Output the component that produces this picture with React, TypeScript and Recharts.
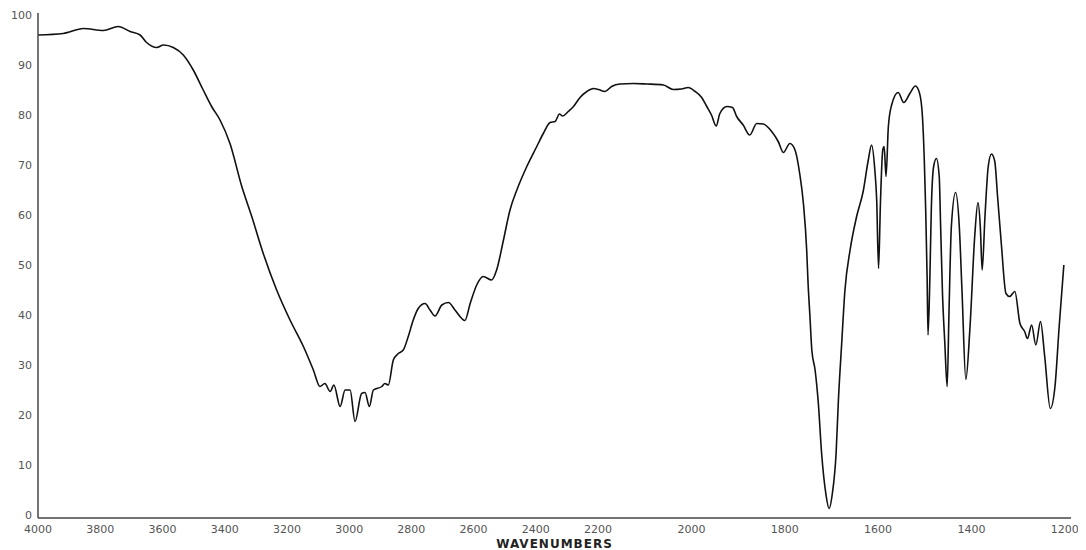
import React from 'react';
import { LineChart, Line, XAxis, YAxis } from 'recharts';

// IR spectrum (wavenumber in cm-1, % transmittance)
const wavenumbers = [
    4000, 3919, 3854, 3790, 3742, 3704, 3672, 3651, 3618, 3597, 3565, 3533, 3501, 3469, 3442, 3415,
    3383, 3345, 3313, 3276, 3233, 3190, 3147, 3115, 3094, 3078, 3061, 3049, 3029, 3013, 2997, 2981,
    2960, 2949, 2935, 2922, 2895, 2885, 2874, 2858, 2842, 2826, 2810, 2794, 2778, 2756, 2740, 2724,
    2702, 2681, 2660, 2638, 2628, 2611, 2590, 2569, 2542, 2526, 2504, 2483, 2461, 2429, 2397, 2376,
    2354, 2338, 2324, 2314, 2296, 2279, 2258, 2236, 2215, 2199, 2185, 2171, 2153, 2124, 2096, 2060,
    2039, 2021, 2007, 1992, 1978, 1967, 1957, 1947, 1939, 1924, 1912, 1903, 1889, 1875, 1860, 1846,
    1828, 1814, 1803, 1789, 1778, 1768, 1760, 1753, 1750, 1746, 1742, 1735, 1728, 1721, 1712, 1705,
    1698, 1690, 1685, 1678, 1671, 1660, 1646, 1632, 1621, 1614, 1607, 1603, 1599, 1595, 1590, 1587,
    1583, 1578, 1571, 1557, 1545, 1532, 1520, 1511, 1505, 1501, 1498, 1495, 1493, 1489, 1486, 1481,
    1475, 1469, 1466, 1462, 1457, 1452, 1448, 1443, 1434, 1426, 1420, 1412, 1403, 1393, 1386, 1381,
    1377, 1371, 1364, 1357, 1350, 1344, 1336, 1326, 1318, 1307, 1296, 1286, 1280, 1271, 1262, 1252,
    1243, 1231, 1221, 1212, 1202,
];

const transmittance = [
    96, 96.3, 97.3, 96.9, 97.7, 96.7, 96, 94.5, 93.5, 94, 93.5, 92, 89, 85, 81.7, 79,
    74.3, 65.7, 59.7, 52.3, 45, 39, 33.7, 29, 25.7, 26.3, 24.7, 26, 21.7, 25, 25, 18.7,
    24.3, 24.5, 21.7, 25, 25.7, 26.3, 26, 31, 32.3, 33, 35.7, 39, 41.3, 42.3, 41, 39.8,
    42, 42.5, 41, 39.3, 38.9, 42.3, 46, 47.7, 47, 49, 55, 61, 65, 69.7, 73.7, 76.3,
    78.5, 78.7, 80.2, 79.8, 80.7, 81.7, 83.5, 84.7, 85.3, 85.1, 84.7, 85.7, 86.2, 86.3, 86.2, 86,
    85.1, 85.2, 85.5, 84.7, 83.5, 81.7, 80, 77.8, 80.3, 81.7, 81.5, 79.7, 78, 76, 78.3, 78.2,
    76.7, 74.7, 72.5, 74.3, 73, 68.3, 62.3, 53, 46.3, 39.7, 33, 29, 22.3, 12.3, 4.3, 1.3,
    4.3, 12.3, 23, 34.3, 45, 53, 59.7, 64.7, 71, 74, 69, 63, 49.3, 62.3, 73, 73.7,
    67.7, 77.7, 82, 84.5, 82.5, 84.3, 85.8, 84.3, 79.7, 71, 61, 47.7, 36, 47.7, 61, 69.7,
    71.3, 67.7, 57.7, 44.3, 34.3, 25.7, 41, 57.7, 64.5, 57.7, 44.3, 27.1, 37.7, 55.7, 62.5, 57.7,
    49, 59.7, 69.7, 72.2, 70.7, 63.7, 54.3, 44.3, 43.7, 44.7, 38.3, 36.7, 35.3, 38, 34, 38.7,
    31.7, 21.3, 25.7, 37.7, 50,
];

const xTickLabels = [4000, 3800, 3600, 3400, 3200, 3000, 2800, 2600, 2400, 2200, 2000, 1800, 1600, 1400, 1200];
const yTicks = [0, 10, 20, 30, 40, 50, 60, 70, 80, 90, 100];

// the x axis is expanded 1.5x below 2200 cm-1
const toPos = (wn: number) => (wn >= 2200 ? (4000 - wn) / 200 : 9 + ((2200 - wn) / 200) * 1.5);

const data = wavenumbers.map((wn, i) => ({ pos: toPos(wn), t: transmittance[i] }));
const xTicks = xTickLabels.map(toPos);

const tickStyle = { fill: '#555', fontSize: 11, fontFamily: 'DejaVu Sans' };

export default function App() {
    return (
        <LineChart width={1078} height={545} data={data} margin={{ top: 5, right: 15, left: 0, bottom: 0 }}>
            <XAxis
                type="number"
                dataKey="pos"
                domain={[0, 16.6]}
                ticks={xTicks}
                interval={0}
                allowDataOverflow
                tickFormatter={(v: number) => {
                    const i = xTicks.findIndex((p) => Math.abs(p - v) < 1e-6);
                    return i >= 0 ? String(xTickLabels[i]) : '';
                }}
                height={35}
                tickLine={false}
                tickSize={5}
                tickMargin={2}
                axisLine={{ stroke: '#444', strokeWidth: 1.5 }}
                tick={tickStyle}
                label={{
                    value: 'WAVENUMBERS',
                    position: 'insideBottom',
                    offset: 5,
                    style: { fill: '#222', fontSize: 12, fontWeight: 'bold', fontFamily: 'DejaVu Sans', letterSpacing: 1 },
                }}
            />
            <YAxis
                type="number"
                domain={[-0.6, 100.4]}
                ticks={yTicks}
                interval={0}
                allowDataOverflow
                width={30}
                tickLine={false}
                tickSize={4}
                tickMargin={2}
                axisLine={{ stroke: '#444', strokeWidth: 1.5 }}
                tick={tickStyle}
            />
            <Line
                type="monotone"
                dataKey="t"
                stroke="#111"
                strokeWidth={1.6}
                dot={false}
                isAnimationActive={false}
            />
        </LineChart>
    );
}
